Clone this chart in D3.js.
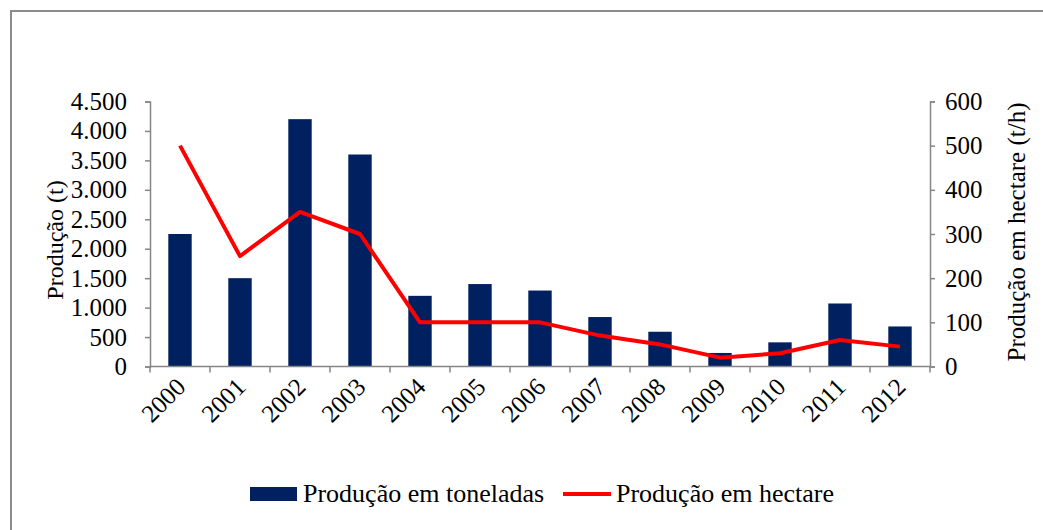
<!DOCTYPE html>
<html>
<head>
<meta charset="utf-8">
<script src="https://cdn.jsdelivr.net/npm/d3@7"></script>
<style>
  body { margin: 0; background: #fff; }
  svg text { font-family: "Liberation Serif", "Times New Roman", serif; fill: #000; }
</style>
</head>
<body>
<svg id="chart" width="1043" height="530"></svg>
<script>
// data
const years = ['2000', '2001', '2002', '2003', '2004', '2005', '2006', '2007', '2008', '2009', '2010', '2011', '2012'];
const toneladas = [2250, 1500, 4200, 3600, 1200, 1400, 1290, 840, 590, 230, 410, 1070, 680];
const hectare = [500, 250, 350, 300, 100, 100, 100, 70, 50, 20, 30, 60, 45];
const leftTicks = [0, 500, 1000, 1500, 2000, 2500, 3000, 3500, 4000, 4500];
const rightTicks = [0, 100, 200, 300, 400, 500, 600];

const svg = d3.select('#chart');
const axisColor = '#868686';

// chart area border (only left and top are visible in the picture)
svg.append('path')
    .attr('d', 'M11,540 L11,11 L1060,11')
    .attr('fill', 'none')
    .attr('stroke', '#8c8c8c')
    .attr('stroke-width', 2);

const x = d3.scaleBand()
    .domain(years)
    .range([150, 930])
    .paddingInner(0.61)
    .paddingOuter(0.305);

const xb = d3.scaleBand().domain(years).range([150, 930]);

const yL = d3.scaleLinear().domain([0, 4500]).range([366.5, 101.5]);
const yR = d3.scaleLinear().domain([0, 600]).range([366.5, 101.5]);

// bars
svg.append('g')
    .selectAll('rect')
    .data(years)
    .enter().append('rect')
    .attr('x', d => x(d))
    .attr('width', x.bandwidth())
    .attr('y', (d, i) => yL(toneladas[i]))
    .attr('height', (d, i) => yL(0) - yL(toneladas[i]))
    .attr('fill', '#002060');

// left axis
const gl = svg.append('g')
    .attr('transform', 'translate(150,0)')
    .call(d3.axisLeft(yL).tickValues(leftTicks).tickSize(5).tickPadding(18)
        .tickFormat(d => d3.format(',')(d).replace(/,/g, '.')));

// right axis
const gr = svg.append('g')
    .attr('transform', 'translate(930,0)')
    .call(d3.axisRight(yR).tickValues(rightTicks).tickSize(5).tickPadding(10));

// bottom axis: ticks at band boundaries
const gb = svg.append('g')
    .attr('transform', 'translate(0,366.5)');
gb.append('line')
    .attr('x1', 150).attr('x2', 930)
    .attr('stroke', axisColor).attr('stroke-width', 1.5);
gb.selectAll('line.tk')
    .data(years.concat(['end']))
    .enter().append('line')
    .attr('class', 'tk')
    .attr('x1', (d, i) => i < years.length ? xb(d) : xb.range()[1])
    .attr('x2', (d, i) => i < years.length ? xb(d) : xb.range()[1])
    .attr('y1', 0).attr('y2', 6)
    .attr('stroke', axisColor).attr('stroke-width', 1.5);
gb.selectAll('text')
    .data(years)
    .enter().append('text')
    .attr('transform', d => 'translate(' + (xb(d) + xb.bandwidth() / 2 + 7) + ',22) rotate(-45)')
    .attr('text-anchor', 'end')
    .attr('font-size', 25)
    .text(d => d);

[gl, gr].forEach(g => {
    g.select('.domain').attr('stroke', axisColor).attr('stroke-width', 1.5);
    g.selectAll('.tick line').attr('stroke', axisColor).attr('stroke-width', 1.5);
    g.selectAll('.tick text').attr('font-size', 25).attr('font-family', '"Liberation Serif", serif');
});

// line series
const line = d3.line()
    .x((d, i) => xb(years[i]) + xb.bandwidth() / 2)
    .y(d => yR(d));

svg.append('path')
    .datum(hectare)
    .attr('d', line)
    .attr('fill', 'none')
    .attr('stroke', '#ff0000')
    .attr('stroke-width', 4)
    .attr('stroke-linejoin', 'round');

// axis titles
svg.append('text')
    .attr('transform', 'translate(63,240) rotate(-90)')
    .attr('text-anchor', 'middle')
    .attr('font-size', 24)
    .text('Produção (t)');

svg.append('text')
    .attr('transform', 'translate(1025,232) rotate(-90)')
    .attr('text-anchor', 'middle')
    .attr('font-size', 25)
    .text('Produção em hectare (t/h)');

// legend
const lg = svg.append('g');
lg.append('rect')
    .attr('x', 250).attr('y', 487)
    .attr('width', 47).attr('height', 14)
    .attr('fill', '#002060');
lg.append('text')
    .attr('x', 303).attr('y', 502)
    .attr('font-size', 26)
    .text('Produção em toneladas');
lg.append('line')
    .attr('x1', 563).attr('x2', 611)
    .attr('y1', 494).attr('y2', 494)
    .attr('stroke', '#ff0000')
    .attr('stroke-width', 4);
lg.append('text')
    .attr('x', 616).attr('y', 502)
    .attr('font-size', 26)
    .text('Produção em hectare');
</script>
</body>
</html>
